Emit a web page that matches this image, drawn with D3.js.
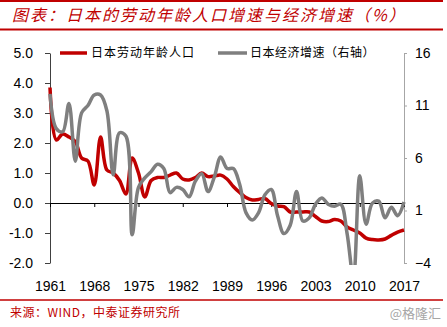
<!DOCTYPE html>
<html>
<head>
<meta charset="utf-8">
<script src="https://cdn.jsdelivr.net/npm/d3@7"></script>
<style>
html,body{margin:0;padding:0;background:#fff;}
svg{display:block;}
</style>
</head>
<body>
<svg id="chart" width="447" height="327"></svg>
<script>
const years = d3.range(1961, 2018);
const laborGrowth = [3.85,2.1,2.3,2.2,2.05,1.5,1.4,0.6,2.2,1.1,
  1.0,0.75,0.3,1.5,1.0,0.2,0.75,0.85,0.85,0.93,
  1.0,0.8,0.77,0.85,1.0,0.88,0.9,0.93,0.8,0.55,
  0.35,0.18,0.1,0.12,0.15,-0.02,-0.1,-0.12,-0.3,-0.3,
  -0.3,-0.3,-0.45,-0.6,-0.62,-0.55,-0.6,-0.8,-0.9,-1.0,
  -1.17,-1.22,-1.23,-1.2,-1.08,-0.97,-0.9];
const gdpGrowth = [12.1,8.8,8.5,11.2,5.7,10.3,11.0,12.0,12.0,10.5,
  4.4,8.4,8.1,-1.3,3.2,4.1,4.7,5.4,5.0,2.7,
  3.2,3.0,2.3,3.8,4.5,2.8,4.2,6.1,5.0,5.0,
  3.5,0.8,0.1,0.8,2.5,3.0,0.5,-1.2,-0.4,2.8,
  0.0,0.3,1.6,2.2,1.6,1.4,1.6,-1.2,-5.4,4.3,
  -0.3,1.7,1.9,0.3,1.3,0.5,1.8];
const xTickYears = [1961,1968,1975,1982,1989,1996,2003,2010,2017];
const leftTicks = [-2,-1,0,1,2,3,4,5];
const rightTicks = [-4,1,6,11,16];
const titleText = "图表：日本的劳动年龄人口增速与经济增速（%）";
const seriesNames = ["日本劳动年龄人口", "日本经济增速（右轴）"];
const sourceText = "来源：WIND，中泰证券研究所";
const watermark = "@格隆汇";

const RED = "#c00000", GRAY = "#7f7f7f";
const svg = d3.select("#chart");
const x = d3.scaleLinear().domain([1961, 2017]).range([50, 404]);
const yL = d3.scaleLinear().domain([-2, 5]).range([263, 53]);
const yR = d3.scaleLinear().domain([-4, 16]).range([263, 53]);

// header / footer rules
[[1,2],[29.5,2],[300,1.5]].forEach(([yy,w]) => {
  svg.append("line").attr("x1",0).attr("x2",443).attr("y1",yy).attr("y2",yy)
    .attr("stroke",RED).attr("stroke-width",w);
});
svg.append("text").attr("x",12).attr("y",21)
  .attr("fill",RED).attr("font-size",16).attr("font-style","italic")
  .attr("letter-spacing","2px")
  .attr("font-family","'Noto Sans CJK SC', sans-serif")
  .text(titleText);

// clip
svg.append("defs").append("clipPath").attr("id","plot")
  .append("rect").attr("x",45).attr("y",40).attr("width",365).attr("height",225);

const axisFont = "'Liberation Sans', Arial, sans-serif";

// left axis
const gL = svg.append("g").attr("transform","translate(50,0)")
  .call(d3.axisLeft(yL).tickValues(leftTicks).tickFormat(d => d.toFixed(1)).tickSize(5).tickPadding(12).tickSizeOuter(0));
gL.select(".domain").attr("stroke","#404040");
gL.selectAll(".tick line").attr("stroke","#404040");
gL.selectAll("text").attr("font-size",14).attr("font-family",axisFont).attr("fill","#000");

// right axis
const gR = svg.append("g").attr("transform","translate(404,0)")
  .call(d3.axisRight(yR).tickValues(rightTicks).tickSize(3).tickPadding(8).tickSizeOuter(0));
gR.select(".domain").attr("stroke","#a6a6a6");
gR.selectAll(".tick line").attr("stroke","#a6a6a6");
gR.selectAll("text").attr("font-size",14).attr("font-family",axisFont).attr("fill","#000");

// zero line with ticks
const gZ = svg.append("g").attr("transform",`translate(0,${yL(0)})`)
  .call(d3.axisBottom(x).tickValues(xTickYears).tickFormat("").tickSize(4).tickSizeOuter(0));
gZ.select(".domain").attr("stroke","#000");
gZ.selectAll(".tick line").attr("stroke","#000");

// x labels
const gX = svg.append("g").attr("transform","translate(0,272)")
  .call(d3.axisBottom(x).tickValues(xTickYears).tickFormat(d3.format("d")).tickSize(0).tickPadding(9));
gX.select(".domain").remove();
gX.selectAll("text").attr("font-size",14).attr("font-family",axisFont).attr("fill","#000");

// lines
const curve = d3.curveCatmullRom.alpha(0.5);
const lineL = d3.line().x((d,i) => x(years[i])).y(d => yL(d)).curve(curve);
const lineR = d3.line().x((d,i) => x(years[i])).y(d => yR(d)).curve(curve);
const gp = svg.append("g").attr("clip-path","url(#plot)");
gp.append("path").attr("d", lineL(laborGrowth)).attr("fill","none")
  .attr("stroke",RED).attr("stroke-width",3.5).attr("stroke-linejoin","round");
gp.append("path").attr("d", lineR(gdpGrowth)).attr("fill","none")
  .attr("stroke",GRAY).attr("stroke-width",3.5).attr("stroke-linejoin","round");

// legend
const legend = [
  {name: seriesNames[0], color: RED, x1: 60, x2: 87, tx: 91, ls: "1px"},
  {name: seriesNames[1], color: GRAY, x1: 218, x2: 247, tx: 250, ls: "0.5px"}
];
legend.forEach(l => {
  svg.append("line").attr("x1",l.x1).attr("x2",l.x2).attr("y1",53).attr("y2",53)
    .attr("stroke",l.color).attr("stroke-width",3.5);
  svg.append("text").attr("x",l.tx).attr("y",53).attr("dy","0.36em")
    .attr("font-size",12).attr("letter-spacing",l.ls)
    .attr("font-family","'Noto Sans CJK SC', sans-serif").attr("fill","#000")
    .text(l.name);
});

// footer
svg.append("text").attr("x",10).attr("y",313).attr("dy","0.36em")
  .attr("font-size",12).attr("fill",RED).attr("letter-spacing","0.5px")
  .attr("font-family","'Noto Sans CJK SC', sans-serif").text(sourceText);
svg.append("text").attr("x",441).attr("y",313).attr("dy","0.36em").attr("text-anchor","end")
  .attr("font-size",13).attr("fill","#a6a6a6")
  .attr("font-family","'Noto Sans CJK SC', sans-serif").text(watermark);
</script>
</body>
</html>
